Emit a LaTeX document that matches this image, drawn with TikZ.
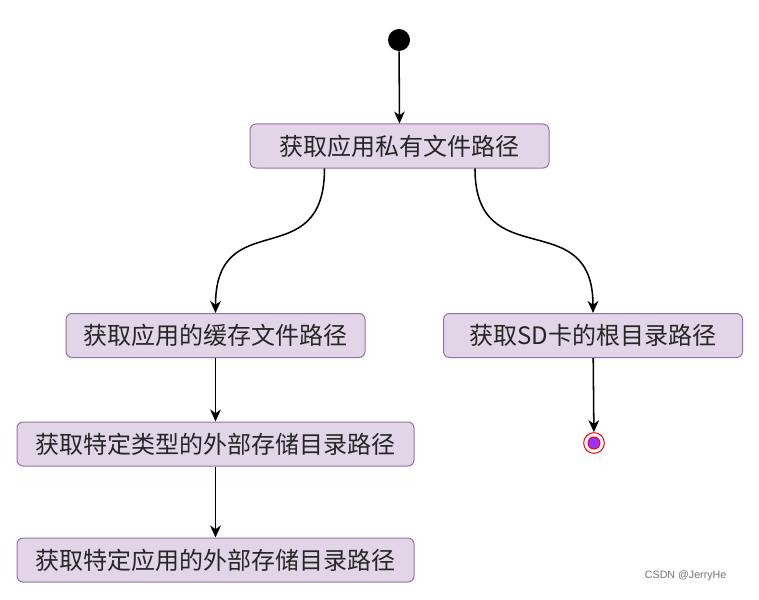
\documentclass[tikz,border=0pt]{standalone}
\usepackage{fontspec}
\setmainfont{Noto Sans CJK SC}
\newfontfamily\markfont{Liberation Sans}
\usetikzlibrary{arrows.meta}
\definecolor{boxfill}{HTML}{E1D5E7}
\definecolor{boxline}{HTML}{9673A6}
\definecolor{endfill}{HTML}{9933FF}
\tikzset{%
  stepbox/.style  = {shape=rectangle, rounded corners=4.5pt,%
                     draw=boxline, line width=0.75pt, fill=boxfill,%
                     text=black!85, font=\fontsize{18pt}{22pt}\selectfont,%
                     minimum width=224.25pt, minimum height=33pt, inner sep=0pt},%
  startdot/.style = {circle, fill=black, inner sep=0pt, minimum size=16.5pt},%
  enddot/.style   = {circle, draw=red, line width=0.75pt, fill=white,%
                     inner sep=0pt, minimum size=15.5pt},%
  flow/.style     = {line width=1.15pt, -{Stealth[length=9pt,width=8pt,inset=2.8pt]}}%
}
\begin{document}
\begin{tikzpicture}[x=0.75pt,y=-0.75pt]
	\useasboundingbox (0,0) rectangle (759,599);
	% states
	\node [startdot] (start) at (399,40) {};
	\node [stepbox] (priv) at (399.5,146) {获取应用私有文件路径};
	\node [stepbox] (cache) at (215.5,335.5) {获取应用的缓存文件路径};
	\node [stepbox] (sd) at (593,335.5) {获取SD卡的根目录路径};
	\node [stepbox, minimum width=297.75pt] (typed) at (215.5,444) {获取特定类型的外部存储目录路径};
	\node [stepbox, minimum width=297.75pt] (appext) at (215.5,560) {获取特定应用的外部存储目录路径};
	\node [enddot] (stop) at (594,443) {};
	\node [circle, draw=red, line width=0.75pt, fill=endfill, inner sep=0pt, minimum size=9pt] (stopin) at (stop) {};
	% transitions
	\draw [flow] (start) -- (priv.north);
	\draw [flow] ([xshift=-56.25pt]priv.south) .. controls +(0,108) and +(0,-110) .. (cache.north);
	\draw [flow] ([xshift=56.6pt]priv.south) .. controls +(0,108) and +(0,-110) .. (sd.north);
	\draw [flow] (cache) -- (typed);
	\draw [flow] (typed) -- (appext);
	\draw [flow] (sd) -- (stop);
	% watermark
	\node [font=\markfont\fontsize{8pt}{9pt}\selectfont, text=black!55, anchor=east] (mark) at (731,576) {CSDN @JerryHe};
\end{tikzpicture}
\end{document}
